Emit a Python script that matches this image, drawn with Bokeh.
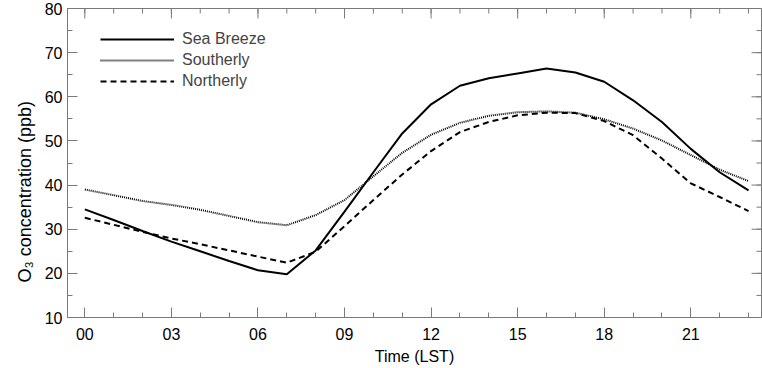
import math
from bokeh.plotting import figure
from bokeh.models import (Range1d, FixedTicker, LinearAxis, Legend, LegendItem, Title)
from bokeh.embed import file_html
from bokeh.resources import INLINE

# ---- data ----
hours = list(range(24))
sea_breeze = [34.5, 32.1, 29.6, 27.2, 25.0, 22.8, 20.7, 19.8, 25.2, 34.0, 42.9, 51.7,
              58.3, 62.5, 64.2, 65.3, 66.4, 65.5, 63.4, 59.2, 54.3, 48.2, 42.9, 38.8]
southerly = [39.0, 37.7, 36.4, 35.5, 34.4, 33.0, 31.6, 30.9, 33.2, 36.6, 42.0, 47.3,
             51.4, 54.1, 55.7, 56.5, 56.7, 56.4, 54.9, 52.8, 50.1, 46.8, 43.5, 40.9]
northerly = [32.6, 31.0, 29.4, 27.9, 26.6, 25.2, 23.8, 22.4, 24.9, 30.7, 36.6, 42.4,
             47.7, 52.0, 54.3, 55.8, 56.4, 56.3, 54.5, 51.3, 46.0, 40.4, 37.3, 34.1]
series_names = ["Sea Breeze", "Southerly", "Northerly"]
x_major_ticks = [0, 3, 6, 9, 12, 15, 18, 21]
x_tick_labels = ["00", "03", "06", "09", "12", "15", "18", "21"]
x_minor_ticks = list(range(24))
y_major_ticks = [10, 20, 30, 40, 50, 60, 70, 80]
y_minor_ticks = [10, 15, 20, 25, 30, 35, 40, 45, 50, 55, 60, 65, 70, 75, 80]
X_MIN, X_MAX = -0.6, 23.45
Y_MIN, Y_MAX = 10, 80

FONT = "Liberation Sans"
AX = "#7a7a7a"

p = figure(width=762, height=368, output_backend="svg", toolbar_location=None,
           x_range=Range1d(X_MIN, X_MAX), y_range=Range1d(Y_MIN, Y_MAX),
           min_border_left=67, min_border_right=1, min_border_top=8, min_border_bottom=51,
           x_axis_location=None, y_axis_location=None)
p.grid.visible = False
p.outline_line_color = AX
p.outline_line_width = 1
p.background_fill_color = "white"
p.border_fill_color = "white"

xticker = FixedTicker(ticks=x_major_ticks, minor_ticks=x_minor_ticks)
yticker = FixedTicker(ticks=y_major_ticks, minor_ticks=y_minor_ticks)


def style(ax):
    ax.axis_line_color = AX
    ax.major_tick_line_color = AX
    ax.minor_tick_line_color = AX
    ax.major_tick_in = 10
    ax.major_tick_out = 0
    ax.minor_tick_in = 5
    ax.minor_tick_out = 0
    ax.major_label_text_font = FONT
    ax.major_label_text_color = "black"
    ax.major_label_text_font_size = "16px"
    ax.axis_label_text_font = FONT
    ax.axis_label_text_font_style = "normal"
    ax.axis_label_text_color = "black"


xb = LinearAxis(ticker=xticker, axis_label="Time (LST)")
style(xb)
xb.major_label_overrides = {t: lab for t, lab in zip(x_major_ticks, x_tick_labels)}
xb.major_label_standoff = 10
xb.axis_label_text_font_size = "16px"
xb.axis_label_standoff = 5
p.add_layout(xb, "below")

yl = LinearAxis(ticker=yticker)
style(yl)
yl.major_label_standoff = 5
p.add_layout(yl, "left")

# mirrored inward ticks on the top and right frame edges
p.ray(x=x_minor_ticks, y=Y_MAX, length=5, length_units="screen", angle=-math.pi / 2,
      line_color=AX, line_width=1)
p.ray(x=x_major_ticks, y=Y_MAX, length=10, length_units="screen", angle=-math.pi / 2,
      line_color=AX, line_width=1)
p.ray(x=X_MAX, y=y_minor_ticks, length=5, length_units="screen", angle=math.pi,
      line_color=AX, line_width=1)
p.ray(x=X_MAX, y=y_major_ticks, length=10, length_units="screen", angle=math.pi,
      line_color=AX, line_width=1)

r1 = p.line(hours, sea_breeze, line_color="black", line_width=2)
r2 = p.line(hours, southerly, line_color="black", line_width=2, line_dash="1 1")
r3 = p.line(hours, northerly, line_color="black", line_width=2, line_dash="6 4")

legend = Legend(items=[LegendItem(label=series_names[0], renderers=[r1]),
                       LegendItem(label=series_names[1], renderers=[r2]),
                       LegendItem(label=series_names[2], renderers=[r3])],
                location=(33, 226), padding=0, margin=0, spacing=1,
                glyph_width=74, glyph_height=20, label_height=20, label_standoff=8,
                label_text_font=FONT, label_text_font_size="16px",
                border_line_color=None, background_fill_alpha=0)
p.add_layout(legend, "center")

ytitle = Title(text="O\u2083 concentration (ppb)", align="left", offset=35,
               vertical_align="middle", standoff=12,
               text_font=FONT, text_font_size="18px", text_font_style="normal",
               text_color="black")
p.add_layout(ytitle, "left")

open("out.html", "w").write(file_html(p, INLINE))
